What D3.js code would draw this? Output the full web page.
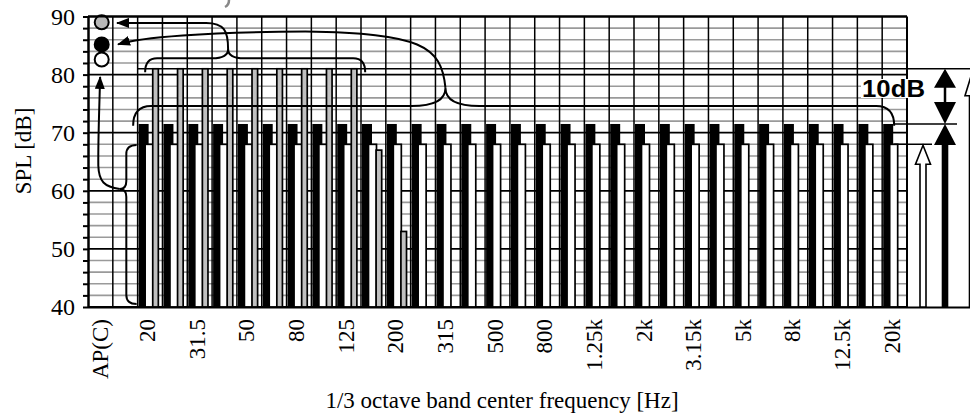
<!DOCTYPE html>
<html>
<head>
<meta charset="utf-8">
<script src="https://cdn.jsdelivr.net/npm/d3@7"></script>
<style>
  html, body { margin: 0; padding: 0; background: #fff; }
  svg { display: block; }
  .serif { font-family: "Liberation Serif", "Times New Roman", serif; }
</style>
</head>
<body>
<svg id="chart" width="970" height="416"></svg>
<script>
// 1/3 octave bands
const bands = ["20", "25", "31.5", "40", "50", "63", "80", "100", "125", "160", "200", "250", "315", "400", "500", "630",
    "800", "1k", "1.25k", "1.6k", "2k", "2.5k", "3.15k", "4k", "5k", "6.3k", "8k", "10k", "12.5k", "16k", "20k"]
const shownLabels = ["AP(C)", "20", "31.5", "50", "80", "125", "200", "315", "500", "800", "1.25k", "2k", "3.15k", "5k", "8k", "12.5k", "20k"]

// levels in dB, one per band
const blackLevels = [71.5, 71.5, 71.5, 71.5, 71.5, 71.5, 71.5, 71.5, 71.5, 71.5, 71.5, 71.5, 71.5, 71.5, 71.5, 71.5,
    71.5, 71.5, 71.5, 71.5, 71.5, 71.5, 71.5, 71.5, 71.5, 71.5, 71.5, 71.5, 71.5, 71.5, 71.5]
const whiteLevels = [68, 68, 68, 68, 68, 68, 68, 68, 68, 68, 68, 68, 68, 68, 68, 68,
    68, 68, 68, 68, 68, 68, 68, 68, 68, 68, 68, 68, 68, 68, 68]
const grayLevels = [81, 81, 81, 81, 81, 81, 81, 81, 81, 67, 53, null, null, null, null, null,
    null, null, null, null, null, null, null, null, null, null, null, null, null, null, null]

// AP(C) overall levels: gray, black, white
const apcLevels = [89, 85.2, 82.6]
const apcFills = ["#b8b8b8", "#000", "#fff"]

const yTicks = [40, 42, 44, 46, 48, 50, 52, 54, 56, 58, 60, 62, 64, 66, 68, 70, 72, 74, 76, 78, 80, 82, 84, 86, 88, 90]

const svg = d3.select("#chart")
const pLeft = 88, pRight = 907, pTop = 16.5, pBottom = 307

let x = d3.scaleBand().domain(["AP(C)", "gap"].concat(bands)).range([pLeft, pRight]).paddingInner(0).paddingOuter(0)
let y = d3.scaleLinear().domain([40, 90]).range([pBottom, pTop])
const bw = x.bandwidth()

// arrow heads
let defs = svg.append("defs")
defs.append("marker")
    .attr("id", "head")
    .attr("viewBox", "0 0 13 10")
    .attr("refX", 12)
    .attr("refY", 5)
    .attr("markerWidth", 13)
    .attr("markerHeight", 10)
    .attr("markerUnits", "userSpaceOnUse")
    .attr("orient", "auto")
    .append("path")
    .attr("d", "M0,0 L13,5 L0,10 Z")
    .attr("fill", "#000")

// horizontal grid
let grid = svg.append("g")
grid.selectAll("line.minor")
    .data(yTicks.filter((d) => d % 10 != 0))
    .enter()
    .append("line")
    .attr("x1", pLeft).attr("x2", pRight)
    .attr("y1", (d) => y(d)).attr("y2", (d) => y(d))
    .attr("stroke", "#9a9a9a")
    .attr("stroke-width", 1.6)
grid.selectAll("line.major")
    .data(yTicks.filter((d) => d % 10 == 0))
    .enter()
    .append("line")
    .attr("x1", pLeft).attr("x2", pRight)
    .attr("y1", (d) => y(d)).attr("y2", (d) => y(d))
    .attr("stroke", "#000")
    .attr("stroke-width", 1.8)
// vertical grid, one line per band
grid.selectAll("line.vert")
    .data(x.domain().slice(1))
    .enter()
    .append("line")
    .attr("x1", (d) => x(d)).attr("x2", (d) => x(d))
    .attr("y1", pTop).attr("y2", pBottom)
    .attr("stroke", "#000")
    .attr("stroke-width", 1.5)

// reference line at the gray level
svg.append("line")
    .attr("x1", x("20")).attr("x2", 970)
    .attr("y1", y(81)).attr("y2", y(81))
    .attr("stroke", "#000").attr("stroke-width", 1.6)

// bars
let bars = svg.append("g")
bars.selectAll("rect.black")
    .data(bands)
    .enter()
    .append("rect")
    .attr("x", (d) => x(d) + 1)
    .attr("width", 10)
    .attr("y", (d, i) => y(blackLevels[i]))
    .attr("height", (d, i) => y(40) - y(blackLevels[i]))
    .attr("fill", "#000")
bars.selectAll("rect.white")
    .data(bands)
    .enter()
    .append("rect")
    .attr("x", (d) => x(d) + 7.5)
    .attr("width", 8)
    .attr("y", (d, i) => y(whiteLevels[i]))
    .attr("height", (d, i) => y(40) - y(whiteLevels[i]))
    .attr("fill", "#fff")
    .attr("stroke", "#000")
    .attr("stroke-width", 1.7)
bars.selectAll("rect.gray")
    .data(bands.filter((d, i) => grayLevels[i] != null))
    .enter()
    .append("rect")
    .attr("x", (d) => x(d) + 15.1)
    .attr("width", 5.6)
    .attr("y", (d, i) => y(grayLevels[i]))
    .attr("height", (d, i) => y(40) - y(grayLevels[i]))
    .attr("fill", "#c0c0c0")
    .attr("stroke", "#000")
    .attr("stroke-width", 1.7)

// braces
function hBrace(x1, x2, xc, yEnd, yFlat, yCusp, r1, r2) {
    let p = d3.path()
    p.moveTo(x1, yEnd)
    p.quadraticCurveTo(x1, yFlat, x1 + r1, yFlat)
    p.lineTo(xc - r2, yFlat)
    p.quadraticCurveTo(xc, yFlat, xc, yCusp)
    p.quadraticCurveTo(xc, yFlat, xc + r2, yFlat)
    p.lineTo(x2 - r1, yFlat)
    p.quadraticCurveTo(x2, yFlat, x2, yEnd)
    return p.toString()
}
function vBrace(y1, y2, yc, xEnd, xFlat, xCusp, r1, r2) {
    let p = d3.path()
    p.moveTo(xEnd, y1)
    p.quadraticCurveTo(xFlat, y1, xFlat, y1 + r1)
    p.lineTo(xFlat, yc - r2)
    p.quadraticCurveTo(xFlat, yc, xCusp, yc)
    p.quadraticCurveTo(xFlat, yc, xFlat, yc + r2)
    p.lineTo(xFlat, y2 - r1)
    p.quadraticCurveTo(xFlat, y2, xEnd, y2)
    return p.toString()
}

let notes = svg.append("g").attr("fill", "none").attr("stroke", "#000").attr("stroke-width", 2)

// gray bars brace and arrow
let gxc = x("40") + 16
notes.append("path").attr("d", hBrace(x("20") + 7.5, x("125") + 29, gxc, y(80.4), y(82.8), y(84.4), 12, 16))
notes.append("path")
    .attr("d", `M${gxc},${y(84.4)} C${gxc},${y(87.5)} ${gxc - 4},${y(88.9)} ${gxc - 22},${y(88.9)} L${x("AP(C)") + 29},${y(88.9)}`)
    .attr("marker-end", "url(#head)")

// black bars brace and arrow
let bxc = x("315") + 10
notes.append("path").attr("d", hBrace(x("20") - 4.5, x("20k") + 12, bxc, y(71.2), y(74.6), y(77.7), 18, 34))
notes.append("path")
    .attr("d", `M${bxc},${y(77.7)} C${bxc - 4},${y(85)} ${bxc - 25},${y(87.1)} ${bxc - 140},${y(87.4)} C${bxc - 240},${y(87.3)} ${bxc - 305},${y(86.4)} ${x("AP(C)") + 30},${y(85.2)}`)
    .attr("marker-end", "url(#head)")

// white bars brace and arrow
let wxf = x("gap") + 13.5
notes.append("path").attr("d", vBrace(y(67.9), y(40.5), y(60.3), x("20") - 1, wxf, wxf - 6.5, 9, 8))
notes.append("path")
    .attr("d", `M${wxf - 6.5},${y(60.3)} C${wxf - 22},${y(60.7)} ${wxf - 27.5},${y(61.6)} ${wxf - 28},${y(64.3)} C${wxf - 28.3},${y(69)} ${wxf - 27},${y(74)} ${wxf - 26.2},${y(79.6)}`)
    .attr("marker-end", "url(#head)")

// AP(C) circles
svg.append("g")
    .selectAll("circle")
    .data(apcLevels)
    .enter()
    .append("circle")
    .attr("cx", x("AP(C)") + bw / 2 + 1.3)
    .attr("cy", (d) => y(d))
    .attr("r", 7)
    .attr("fill", (d, i) => apcFills[i])
    .attr("stroke", "#000")
    .attr("stroke-width", 2)

// frame
svg.append("line").attr("x1", pLeft).attr("x2", pRight).attr("y1", pTop).attr("y2", pTop)
    .attr("stroke", "#000").attr("stroke-width", 2)
svg.append("line").attr("x1", pRight).attr("x2", pRight).attr("y1", pTop).attr("y2", pBottom)
    .attr("stroke", "#000").attr("stroke-width", 2)
svg.append("line").attr("x1", pLeft).attr("x2", 970).attr("y1", pBottom + 0.5).attr("y2", pBottom + 0.5)
    .attr("stroke", "#000").attr("stroke-width", 2.2)

// y axis
let yAxis = svg.append("g")
    .attr("transform", `translate(${pLeft},0)`)
    .call(d3.axisLeft(y).tickValues(yTicks).tickSize(5).tickSizeOuter(0).tickPadding(8)
        .tickFormat((d) => (d % 10 == 0 ? d : "")))
yAxis.select(".domain").attr("stroke-width", 2.5)
yAxis.selectAll(".tick line").attr("stroke-width", 2)
yAxis.selectAll("text").attr("class", "serif").attr("font-size", 24).attr("fill", "#000")

svg.append("text")
    .attr("class", "serif")
    .attr("font-size", 23)
    .attr("text-anchor", "middle")
    .attr("transform", "translate(31,151) rotate(-90)")
    .text("SPL [dB]")

// x labels, every other band
svg.append("g")
    .selectAll("text")
    .data(shownLabels)
    .enter()
    .append("text")
    .attr("class", "serif")
    .attr("font-size", 23)
    .attr("text-anchor", "end")
    .attr("dy", "0.35em")
    .attr("transform", (d) => `translate(${d == "AP(C)" ? x(d) + bw / 2 : x(d) + 9.5},319) rotate(-90)`)
    .text((d) => d)

svg.append("text")
    .attr("class", "serif")
    .attr("font-size", 23)
    .attr("text-anchor", "middle")
    .attr("x", 502)
    .attr("y", 408)
    .text("1/3 octave band center frequency [Hz]")

// right side level markers
let r = svg.append("g")
r.append("line").attr("x1", x("20k") + 12).attr("x2", 957).attr("y1", y(71.5)).attr("y2", y(71.5))
    .attr("stroke", "#000").attr("stroke-width", 1.6)
r.append("line").attr("x1", x("20k") + 12).attr("x2", 932).attr("y1", y(68)).attr("y2", y(68))
    .attr("stroke", "#000").attr("stroke-width", 1.6)

let ax = 945
// 10 dB double arrow
r.append("path")
    .attr("d", `M${ax},${y(81)} L${ax + 11},${y(81) + 19} L${ax - 11},${y(81) + 19} Z M${ax},${y(71.5)} L${ax + 11},${y(71.5) - 22} L${ax - 11},${y(71.5) - 22} Z`)
    .attr("fill", "#000")
r.append("line").attr("x1", ax).attr("x2", ax).attr("y1", y(81) + 18).attr("y2", y(71.5) - 21)
    .attr("stroke", "#000").attr("stroke-width", 2.5)
// black level arrow
r.append("path")
    .attr("d", `M${ax},${y(71.5)} L${ax + 11},${y(71.5) + 21} L${ax + 3.3},${y(71.5) + 21} L${ax + 3.3},${pBottom} L${ax - 3.3},${pBottom} L${ax - 3.3},${y(71.5) + 21} L${ax - 11},${y(71.5) + 21} Z`)
    .attr("fill", "#000")
// white level arrow
let wx = 923
r.append("path")
    .attr("d", `M${wx},${y(68) + 1} L${wx + 7.5},${y(68) + 20} L${wx + 3},${y(68) + 20} L${wx + 3},${pBottom} L${wx - 3},${pBottom} L${wx - 3},${y(68) + 20} L${wx - 7.5},${y(68) + 20} Z`)
    .attr("fill", "#fff").attr("stroke", "#000").attr("stroke-width", 1.6)
// gray level arrow, cut at the edge
let gx = 973
r.append("path")
    .attr("d", `M${gx},${y(81) + 1} L${gx + 8},${y(81) + 27} L${gx + 3.5},${y(81) + 27} L${gx + 3.5},${pBottom} L${gx - 3.5},${pBottom} L${gx - 3.5},${y(81) + 27} L${gx - 8},${y(81) + 27} Z`)
    .attr("fill", "#fff").attr("stroke", "#000").attr("stroke-width", 1.6)

// 10dB label
r.append("rect").attr("x", 861).attr("y", 79).attr("width", 65).attr("height", 19).attr("fill", "#fff")
r.append("text")
    .attr("x", 862)
    .attr("y", 97)
    .attr("font-family", "'Liberation Sans', Arial, sans-serif")
    .attr("font-weight", "bold")
    .attr("font-size", 23)
    .attr("textLength", 63)
    .attr("lengthAdjust", "spacingAndGlyphs")
    .text("10dB")

// remnant of the cut-off title above the frame
svg.append("path").attr("d", "M229,0 Q229,5 225,7").attr("fill", "none").attr("stroke", "#888").attr("stroke-width", 2.5)
</script>
</body>
</html>
